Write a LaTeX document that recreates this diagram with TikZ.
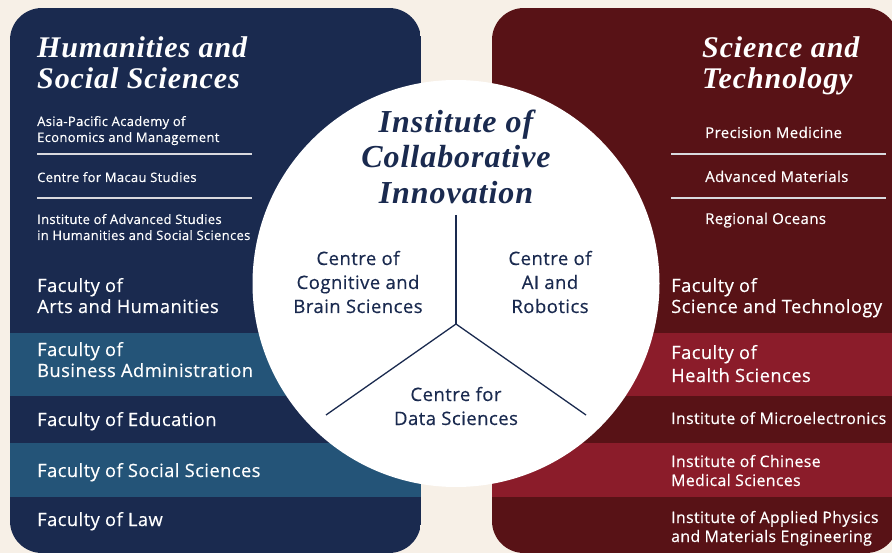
\documentclass[tikz,border=0pt]{standalone}
\usepackage{fontspec}
\setmainfont{Open Sans}
\newfontfamily\medfont{Open Sans}[FakeBold=0.4,LetterSpace=2.5]
\newfontfamily\ttlfont{Liberation Serif}[LetterSpace=3]
\definecolor{navy}{HTML}{1A2A4F}
\definecolor{bandblue}{HTML}{245478}
\definecolor{darkred}{HTML}{581216}
\definecolor{bandred}{HTML}{8B1C2A}
\definecolor{cream}{HTML}{F7F0E7}
\definecolor{sepgray}{HTML}{D9D9DE}
\tikzset{
  paneltitle/.style={anchor=base west, inner sep=0pt, text=white, font=\ttlfont\bfseries\itshape\fontsize{30}{32}\selectfont},
  smalltxt/.style={anchor=base west, inner sep=0pt, text=white, font=\medfont\fontsize{13}{15}\selectfont},
  smalltxtr/.style={anchor=base west, inner sep=0pt, text=white, font=\medfont\fontsize{15}{17}\selectfont},
  bigtxt/.style={anchor=base west, inner sep=0pt, text=white, font=\medfont\fontsize{18.3}{22}\selectfont},
  midtxt/.style={anchor=base west, inner sep=0pt, text=white, font=\medfont\fontsize{15.8}{19}\selectfont},
  ctrtitle/.style={anchor=base, inner sep=0pt, text=navy, font=\ttlfont\bfseries\itshape\fontsize{32}{35}\selectfont},
  ctrtxt/.style={anchor=base, inner sep=0pt, text=navy, font=\medfont\fontsize{18.5}{24}\selectfont},
  sepline/.style={draw=sepgray, line width=1.3pt},
  spoke/.style={draw=navy, line width=1.3pt}
}
\begin{document}
\begin{tikzpicture}[x=1pt,y=-1pt]
\fill[cream] (0,0) rectangle (892,553);
\useasboundingbox (0,0) rectangle (892,553);
% left panel
\begin{scope}
\clip[rounded corners=32pt] (10,8) rectangle (421,553);
\fill[navy] (10,8) rectangle (421,553);
\fill[bandblue] (10,333) rectangle (421,396);
\fill[bandblue] (10,443) rectangle (421,497);
\end{scope}
% right panel
\begin{scope}
\clip[rounded corners=32pt] (492,8) rectangle (898,553);
\fill[darkred] (492,8) rectangle (898,553);
\fill[bandred] (492,333) rectangle (898,396);
\fill[bandred] (492,443) rectangle (898,497);
\end{scope}
% circle
\node[circle, fill=white, inner sep=0pt, minimum size=407pt] (ici) at (456,283.5) {};
% left texts
\node[paneltitle] (lt1) at (37,58) {Humanities and};
\node[paneltitle] (lt2) at (37,89) {Social Sciences};
\node[smalltxt] (ls1a) at (37,126) {Asia-Pacific Academy of};
\node[smalltxt] (ls1b) at (37,142) {Economics and Management};
\coordinate (lsepA1) at (37,154); \coordinate (lsepA2) at (252,154);
\draw[sepline] (lsepA1) -- (lsepA2);
\node[smalltxt] (ls2) at (37,182) {Centre for Macau Studies};
\coordinate (lsepB1) at (37,198); \coordinate (lsepB2) at (252,198);
\draw[sepline] (lsepB1) -- (lsepB2);
\node[smalltxt] (ls3a) at (37,224) {Institute of Advanced Studies};
\node[smalltxt] (ls3b) at (37,240) {in Humanities and Social Sciences};
\node[bigtxt] (lf1a) at (37,292) {Faculty of};
\node[bigtxt] (lf1b) at (37,313) {Arts and Humanities};
\node[bigtxt] (lf2a) at (37,356) {Faculty of};
\node[bigtxt] (lf2b) at (37,377) {Business Administration};
\node[bigtxt] (lf3) at (37,426) {Faculty of Education};
\node[bigtxt] (lf4) at (37,477) {Faculty of Social Sciences};
\node[bigtxt] (lf5) at (37,526) {Faculty of Law};
% right texts
\node[paneltitle] (rt1) at (702,58) {Science and};
\node[paneltitle] (rt2) at (702,89) {Technology};
\node[smalltxtr] (rs1) at (705,138) {Precision Medicine};
\coordinate (rsepA1) at (671,154); \coordinate (rsepA2) at (886,154);
\draw[sepline] (rsepA1) -- (rsepA2);
\node[smalltxtr] (rs2) at (705,182) {Advanced Materials};
\coordinate (rsepB1) at (671,198); \coordinate (rsepB2) at (886,198);
\draw[sepline] (rsepB1) -- (rsepB2);
\node[smalltxtr] (rs3) at (705,224) {Regional Oceans};
\node[bigtxt] (rf1a) at (671,292) {Faculty of};
\node[bigtxt] (rf1b) at (671,313) {Science and Technology};
\node[bigtxt] (rf2a) at (671,359) {Faculty of};
\node[bigtxt] (rf2b) at (671,382) {Health Sciences};
\node[midtxt] (rf3) at (671,424) {Institute of Microelectronics};
\node[midtxt] (rf4a) at (671,467) {Institute of Chinese};
\node[midtxt] (rf4b) at (671,486) {Medical Sciences};
\node[midtxt] (rf5a) at (671,523) {Institute of Applied Physics};
\node[midtxt] (rf5b) at (671,542) {and Materials Engineering};
% centre texts
\node[ctrtitle] (ct1) at (456,133) {Institute of};
\node[ctrtitle] (ct2) at (456,168) {Collaborative};
\node[ctrtitle] (ct3) at (456,204) {Innovation};
\coordinate (sptop) at (456,215);
\coordinate (hub) at (456,324);
\coordinate (spl) at (326,415);
\coordinate (spr) at (586,415);
\draw[spoke] (sptop) -- (hub);
\draw[spoke] (hub) -- (spl);
\draw[spoke] (hub) -- (spr);
\node[ctrtxt] (cc1a) at (358,265) {Centre of};
\node[ctrtxt] (cc1b) at (358,289) {Cognitive and};
\node[ctrtxt] (cc1c) at (358,313) {Brain Sciences};
\node[ctrtxt] (cc2a) at (550,265) {Centre of};
\node[ctrtxt] (cc2b) at (550,289) {AI and};
\node[ctrtxt] (cc2c) at (550,313) {Robotics};
\node[ctrtxt] (cc3a) at (456,401) {Centre for};
\node[ctrtxt] (cc3b) at (456,425) {Data Sciences};
\end{tikzpicture}
\end{document}
